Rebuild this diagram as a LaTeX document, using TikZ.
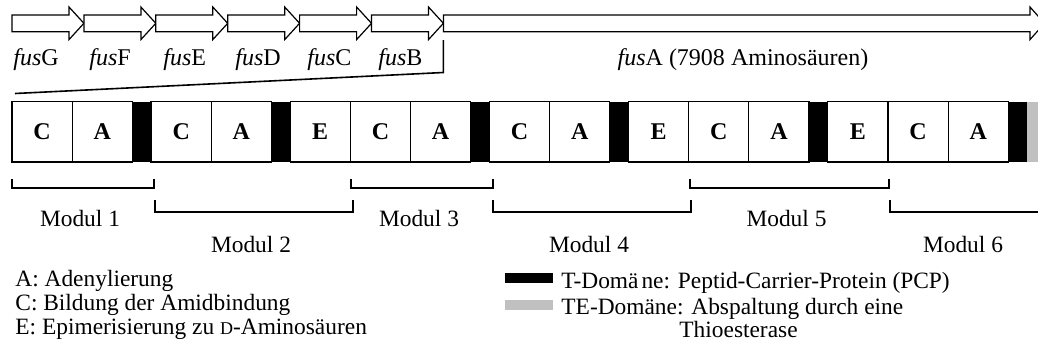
\documentclass[tikz,border=0pt]{standalone}
\usepackage{fontspec}
\setmainfont{Liberation Serif}
\definecolor{tegray}{HTML}{C0C0C0}
\begin{document}
\begin{tikzpicture}[x=0.5pt,y=-0.5pt,
  txt/.style={font=\fontsize{11.7}{14}\selectfont, inner sep=0pt},
  lgd/.style={font=\fontsize{11.7}{14}\selectfont, inner sep=0pt, anchor=base west},
  toplbl/.style={font=\fontsize{12}{14}\selectfont, inner sep=0pt, anchor=base west},
  dombox/.style={draw=black, line width=0.6pt, fill=white},
  tdom/.style={fill=black},
  letter/.style={font=\fontsize{12}{14}\selectfont\bfseries, inner sep=0pt},
  gene/.style={draw=black, line width=0.6pt, fill=white},
  brack/.style={draw=black, line width=0.6pt},
  zoomline/.style={draw=black, line width=0.8pt}
]
\useasboundingbox (0,0) rectangle (1038,349);
\clip (0,0) rectangle (1038,349);
\fill[white] (0,0) rectangle (1038,349);

% gene arrows
\foreach \s in {12,83.9,155.8,227.7,299.6,371.5}{
  \draw[gene] (\s,15) -- (\s+57,15) -- (\s+57,7) -- (\s+71.9,23.3) -- (\s+57,39.6) -- (\s+57,31.7) -- (\s,31.7) -- cycle;
}
\draw[gene] (443.4,15) -- (1030,15) -- (1030,7) -- (1044.5,23.3) -- (1030,39.6) -- (1030,31.7) -- (443.4,31.7) -- cycle;

% gene labels
\node[toplbl] (lg) at (13,65) {\textit{fus}G};
\node[toplbl] (lf) at (89,65) {\textit{fus}F};
\node[toplbl] (le) at (163,65) {\textit{fus}E};
\node[toplbl] (ld) at (235,65) {\textit{fus}D};
\node[toplbl] (lc) at (307,65) {\textit{fus}C};
\node[toplbl] (lb) at (378,65) {\textit{fus}B};
\node[font=\fontsize{12}{14}\selectfont, inner sep=0pt, anchor=base] (la) at (743,65) {\textit{fus}A (7908 Aminosäuren)};

% zoom lines
\coordinate (z0) at (443.4,40);
\coordinate (z1) at (443.4,72.5);
\coordinate (z2) at (15,93.5);
\draw[zoomline] (z0) -- (z1) -- (z2);

% domains
\foreach \a/\b/\l in {12/72.2/C, 72.2/132.4/A, 151.07/211.27/C, 211.27/271.47/A, 290.13/350.33/E,
  350.33/410.53/C, 410.53/470.73/A, 489.4/549.6/C, 549.6/609.8/A, 628.47/688.67/E,
  688.67/748.87/C, 748.87/809.07/A, 827.73/887.93/E, 887.93/948.13/C, 948.13/1008.33/A}{
  \draw[dombox] (\a,101.8) rectangle (\b,162);
  \node[letter] at ({(\a+\b)/2},132) {\l};
}
\foreach \a/\b in {132.4/151.07, 271.47/290.13, 470.73/489.4, 609.8/628.47, 808.8/827.73, 1008.33/1027}{
  \fill[tdom] (\a,101.5) rectangle (\b,162.3);
}
\fill[tegray] (1027,101.5) rectangle (1045,162.3);

% module brackets
\foreach \a/\b/\n in {12/154/1, 351/493/3, 690/889/5}{
  \draw[brack] (\a,179) -- (\a,188) -- (\b,188) -- (\b,179);
  \node[txt] (m\n) at ({(\a+\b)/2-3},218) {Modul \n};
}
\foreach \a/\b/\n in {155/353/2, 493/691/4}{
  \draw[brack] (\a,200) -- (\a,212) -- (\b,212) -- (\b,200);
  \node[txt] (m\n) at ({(\a+\b)/2-3},244) {Modul \n};
}
\draw[brack] (890,200) -- (890,212) -- (1045,212);
\node[txt] (m6) at (963,244) {Modul 6};

% legend left
\node[lgd] (lA) at (15,286.5) {A: Adenylierung};
\node[lgd] (lC) at (15,310) {C: Bildung der Amidbindung};
\node[lgd] (lE) at (15,334) {E: Epimerisierung zu {\fontsize{9}{10}\selectfont D}-Aminosäuren};

% legend right
\fill[black] (505,272.7) rectangle (553,283.3);
\fill[tegray] (505,300) rectangle (553,310);
\node[lgd] (lT) at (561,288) {T-Domä\kern1.5pt ne: Peptid-Carrier-Protein (PCP)};
\node[lgd] (lTE) at (561,314) {TE-Domäne: Abspaltung durch eine};
\node[lgd] (lTh) at (679,337) {Thioesterase};
\end{tikzpicture}
\end{document}
